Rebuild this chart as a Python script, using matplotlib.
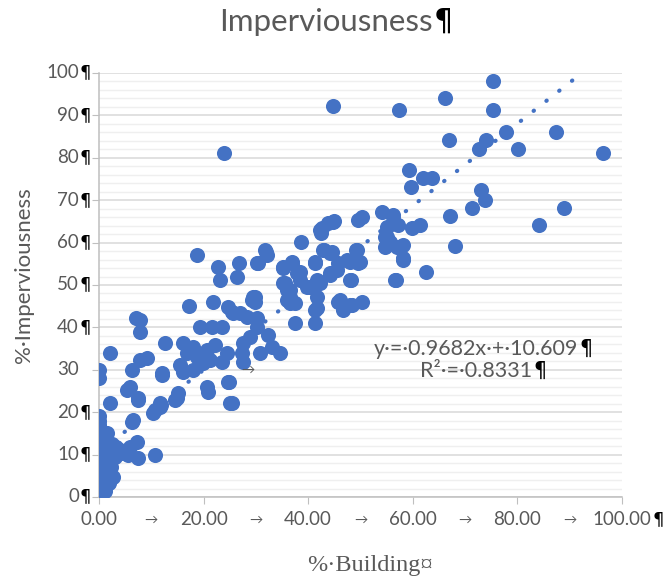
import numpy as np
import matplotlib
matplotlib.use('Agg')
import matplotlib.pyplot as plt

# % building (x) and % imperviousness (y)
building = [
    44.7, 57.4, 66.2, 75.3, 75.3, 77.8, 87.4, 80.1, 96.4, 66.9, 74.0, 72.7, 59.3, 59.7,
    62.0, 63.7, 73.0, 73.8, 71.3, 67.1, 88.9, 84.1, 68.1, 62.5, 56.8, 23.9,
    54.1, 56.2, 57.2, 55.1, 54.7, 55.6, 58.1, 58.1, 54.7, 59.8, 61.4, 55.1, 58.1, 56.6,
    56.2, 57.0,
    49.5, 50.3, 44.9, 43.8, 42.6, 42.4, 38.6, 42.3, 44.7,
    31.9, 30.4, 35.2, 36.9, 43.0, 44.2, 41.3, 49.1, 49.5, 48.2, 45.7, 47.4, 38.4, 38.4,
    35.2, 35.9, 36.5, 36.5, 41.7, 41.7, 41.7, 44.2, 40.3, 46.1, 48.0, 50.3, 29.8, 29.8,
    46.6,
    18.7, 22.8, 23.1, 26.8, 26.4, 31.7, 32.1, 30.2, 17.2, 21.8, 24.7, 25.6, 29.4, 27.0,
    28.3, 30.2, 19.3, 21.6, 23.5, 12.6, 16.1, 16.8, 18.7, 20.7, 22.2, 24.5, 23.5, 21.2,
    19.9, 15.5, 18.0, 12.0, 27.5, 27.3, 27.5, 30.2, 28.9, 32.3, 30.8, 33.1, 34.6, 24.9,
    20.7, 20.8, 15.1, 14.5, 25.0, 11.7, 10.7, 35.2, 36.9, 35.6, 36.5, 37.9, 35.9, 37.5,
    37.5, 41.3, 41.3, 39.8, 42.3, 41.3, 42.8, 44.6, 44.2, 45.5, 48.0, 49.3, 49.9, 48.0,
    45.7, 46.7, 48.4, 18.0, 16.1, 29.3, 25.4,
    7.1, 7.8, 7.8, 2.1, 0.0, 0.0, 6.3, 7.8, 9.2, 12.0, 5.4, 5.9, 7.5, 2.1, 10.3, 11.7,
    14.9, 6.3, 10.7, 7.3, 5.9, 25.4, 24.7,
    0.0, 0.0, 0.0, 0.0, 0.0, 0.0, 0.0, 0.0, 0.0, 0.0, 0.0, 0.0, 0.0, 0.0, 0.0, 0.0,
    0.0, 0.0, 0.0, 0.0,
    1.7, 3.3, 2.7, 1.9, 1.3, 5.5, 7.5, 6.5, 11.9, 7.5, 0.8, 1.0, 2.2, 3.0, 4.0, 2.5,
    1.2, 0.6, 1.5, 4.2,
]
impervious = [
    92.2, 91.3, 94.1, 98.1, 91.3, 86.1, 86.1, 82.1, 81.1, 84.2, 84.2, 82.1, 77.1, 73.1,
    75.2, 75.2, 72.4, 70.0, 68.2, 66.3, 68.2, 64.2, 59.2, 53.1, 51.2, 81.1,
    67.2, 66.5, 64.2, 63.7, 61.3, 60.1, 59.4, 55.9, 59.0, 63.4, 64.2, 61.3, 56.4, 51.2,
    66.0, 59.0,
    65.3, 66.0, 65.1, 64.6, 63.4, 62.3, 60.1, 63.0, 64.9,
    57.8, 55.2, 54.0, 55.4, 58.3, 57.5, 55.2, 58.3, 55.2, 51.2, 55.2, 55.9, 53.1, 51.2,
    50.5, 48.8, 47.2, 45.8, 51.2, 47.2, 44.6, 52.8, 49.5, 46.5, 45.3, 46.0, 47.2, 46.0,
    44.1,
    57.1, 54.2, 51.2, 55.2, 51.9, 58.3, 57.1, 55.2, 45.0, 46.0, 44.8, 43.4, 47.2, 43.4,
    42.5, 42.2, 40.1, 40.1, 40.1, 36.3, 36.3, 34.0, 33.0, 34.7, 35.8, 34.0, 31.8, 32.3,
    31.6, 31.1, 30.0, 29.2, 36.3, 34.0, 31.8, 40.1, 37.7, 38.2, 34.0, 35.4, 34.0, 27.1,
    25.9, 24.8, 24.5, 22.9, 22.2, 22.2, 20.5, 54.2, 55.2, 50.5, 48.8, 52.8, 46.5, 45.8,
    41.0, 41.0, 44.1, 49.5, 50.5, 55.4, 58.3, 57.8, 52.4, 53.5, 55.4, 58.3, 55.4, 51.2,
    46.0, 44.6, 45.3, 35.4, 29.5, 46.5, 43.6,
    42.2, 41.7, 38.9, 34.0, 30.0, 28.1, 30.0, 32.3, 32.8, 28.8, 25.2, 25.9, 23.3, 22.2,
    19.8, 21.2, 23.3, 17.7, 9.9, 13.0, 11.8, 22.2, 27.1,
    0.0, 1.0, 2.0, 3.0, 4.0, 5.0, 6.0, 7.0, 8.0, 9.0, 10.0, 11.0, 12.0, 13.0, 14.0, 15.0,
    16.0, 17.0, 18.0, 19.0,
    12.3, 11.8, 4.7, 3.3, 8.0, 9.9, 9.2, 18.2, 21.7, 22.9, 6.0, 10.0, 7.0, 9.5, 11.0, 12.5,
    1.5, 13.5, 15.0, 10.3,
]

# linear trendline as printed on the chart
slope = 0.9682
intercept = 10.609

x_ticks = [0, 20, 40, 60, 80, 100]
x_labels = ['0.00', '20.00', '40.00', '60.00', '80.00', '100.00']
y_ticks = [0, 10, 20, 30, 40, 50, 60, 70, 80, 90, 100]
y_labels = ['0', '10', '20', '30', '40', '50', '60', '70', '80', '90', '100']
y_no_mark = ['30']

BLUE = '#4472C4'
GREY = '#595959'
FONT = ['Lato', 'DejaVu Sans']

plt.rcParams['font.family'] = FONT

fig = plt.figure(figsize=(6.69, 5.8), dpi=100)
ax = fig.add_axes([99 / 669, 83 / 580, 523 / 669, 424 / 580])

ax.scatter(building, impervious, s=118, color=BLUE, zorder=3, linewidths=0)

# trendline
xt = np.array([0, max(building)])
ax.plot(xt, slope * xt + intercept, color=BLUE, lw=3.0,
        linestyle=(0, (0.1, 3.8)), dash_capstyle='round', zorder=4)

ax.set_xlim(0, 100)
ax.set_ylim(0, 100)
ax.set_xticks(x_ticks)
ax.set_xticklabels([])
ax.set_yticks(y_ticks)
ax.set_yticklabels([])
ax.set_yticks(np.arange(0, 101, 2), minor=True)
ax.tick_params(axis='x', which='major', length=5, color='#bfbfbf', direction='out')
ax.tick_params(axis='y', which='major', length=5, color='#bfbfbf', direction='out')
ax.tick_params(axis='y', which='minor', length=0)

ax.grid(axis='y', which='major', color='#d9d9d9', lw=1.1, zorder=0)
ax.grid(axis='y', which='minor', color='#efefef', lw=1.0, zorder=0)
ax.set_axisbelow(True)
for s in ['top', 'right']:
    ax.spines[s].set_visible(False)
for s in ['left', 'bottom']:
    ax.spines[s].set_color('#bfbfbf')
    ax.spines[s].set_linewidth(1.1)


def pilcrow(artist, size):
    ax.annotate('¶', xy=(1, 0), xycoords=artist, xytext=(1, 0),
                textcoords='offset pixels', ha='left', va='bottom',
                fontsize=size, color='black', family='DejaVu Sans',
                annotation_clip=False)


# y tick labels
for v, lab in zip(y_ticks, y_labels):
    t = ax.annotate(lab, xy=(0, v), xycoords=('axes fraction', 'data'),
                    xytext=(-20, 0), textcoords='offset pixels', ha='right', va='center',
                    fontsize=13.5, color=GREY, annotation_clip=False)
    if lab not in y_no_mark:
        pilcrow(t, 13)

# x tick labels with tab arrows in between
for v, lab in zip(x_ticks, x_labels):
    t = ax.annotate(lab, xy=(v, 0), xycoords=('data', 'axes fraction'),
                    xytext=(0, -14), textcoords='offset pixels', ha='center', va='top',
                    fontsize=13.5, color=GREY, annotation_clip=False)
    if v == 100:
        pilcrow(t, 13)
for a, b in zip(x_ticks[:-1], x_ticks[1:]):
    ax.annotate('→', xy=((a + b) / 2, 0), xycoords=('data', 'axes fraction'),
                xytext=(0, -17), textcoords='offset pixels', ha='center', va='top',
                fontsize=9.5, color=GREY, annotation_clip=False)

# stray tab mark inside the plot
ax.text(28.5, 30.0, '→', fontsize=9.5, color=GREY, ha='center', va='center', zorder=5)

# trendline equation
eq = ax.text(0.721, 0.35, 'y·=·0.9682x·+·10.609', transform=ax.transAxes,
             ha='center', va='center', fontsize=15.5, color=GREY, zorder=5)
pilcrow(eq, 15)
r2 = ax.text(0.721, 0.298, 'R²·=·0.8331', transform=ax.transAxes,
             ha='center', va='center', fontsize=15.5, color=GREY, zorder=5)
pilcrow(r2, 15)

# title and axis titles
title = fig.text(326 / 669, 1 - 22 / 580, 'Imperviousness', ha='center', va='center',
                 fontsize=22.5, color=GREY)
fig.canvas.draw()
tb = title.get_window_extent()
fig.text((tb.x1 + 1) / 669, tb.y0 / 580, '¶', ha='left', va='bottom', fontsize=22,
         color='black', family='DejaVu Sans')

fig.text(24 / 669, 1 - 275 / 580, '%·Imperviousness', rotation=90, ha='center',
         va='center', fontsize=16, color=GREY)
fig.text(370 / 669, 1 - 566 / 580, '%·Building¤', ha='center', va='center',
         fontsize=17.5, color=GREY, family='Liberation Serif')

plt.savefig('out.png', dpi=100)
